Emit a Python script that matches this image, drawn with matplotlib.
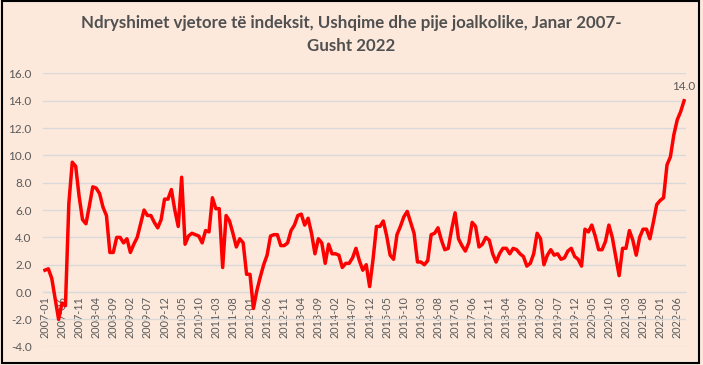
import matplotlib
matplotlib.use('Agg')
import matplotlib.pyplot as plt
import numpy as np
import pandas as pd
from matplotlib.patches import Rectangle

plt.rcParams['font.family'] = ['Lato', 'DejaVu Sans']

TITLE = 'Ndryshimet vjetore të indeksit, Ushqime dhe pije joalkolike, Janar 2007-\nGusht 2022'

# yearly change (%), one list per year
y2007 = [1.6, 1.7, 1.0, -0.5, -2.0, -0.8, -1.0, 6.5, 9.5, 9.2, 7.0, 5.3]
y2008 = [5.0, 6.3, 7.7, 7.6, 7.2, 6.2, 5.6, 2.9, 2.9, 4.0, 4.0, 3.6]
y2009 = [3.9, 2.9, 3.5, 4.0, 5.0, 6.0, 5.6, 5.6, 5.1, 4.7, 5.3, 6.8]
y2010 = [6.8, 7.5, 6.0, 4.8, 8.4, 3.5, 4.1, 4.3, 4.2, 4.1, 3.6, 4.5]
y2011 = [4.4, 6.9, 6.1, 6.1, 1.8, 5.6, 5.2, 4.3, 3.3, 3.9, 3.6, 1.3]
y2012 = [1.3, -1.2, 0.1, 1.1, 2.0, 2.7, 4.1, 4.2, 4.2, 3.4, 3.4, 3.6]
y2013 = [4.5, 4.9, 5.6, 5.7, 4.9, 5.4, 4.3, 2.8, 3.9, 3.6, 2.1, 3.5]
y2014 = [2.8, 2.8, 2.7, 1.8, 2.1, 2.1, 2.5, 3.2, 2.3, 1.6, 2.0, 0.4]
y2015 = [2.4, 4.8, 4.8, 5.2, 4.1, 2.7, 2.4, 4.2, 4.8, 5.5, 5.9, 5.1]
y2016 = [4.3, 2.2, 2.2, 2.0, 2.3, 4.2, 4.3, 4.7, 3.8, 3.1, 3.2, 4.6]
y2017 = [5.8, 3.9, 3.4, 3.0, 3.6, 5.1, 4.8, 3.3, 3.5, 4.0, 3.8, 2.8]
y2018 = [2.2, 2.8, 3.2, 3.2, 2.8, 3.2, 3.1, 2.8, 2.6, 1.9, 2.1, 2.8]
y2019 = [4.3, 3.9, 2.0, 2.7, 3.1, 2.7, 2.8, 2.4, 2.5, 3.0, 3.2, 2.6]
y2020 = [2.4, 1.9, 4.6, 4.4, 4.9, 4.1, 3.1, 3.1, 3.7, 4.9, 4.0, 2.6]
y2021 = [1.2, 3.2, 3.2, 4.5, 3.8, 2.7, 4.0, 4.6, 4.6, 3.9, 5.1, 6.4]
y2022 = [6.7, 6.9, 9.3, 9.9, 11.5, 12.6, 13.2, 14.0]

values = (y2007 + y2008 + y2009 + y2010 + y2011 + y2012 + y2013 + y2014
          + y2015 + y2016 + y2017 + y2018 + y2019 + y2020 + y2021 + y2022)
months = pd.period_range('2007-01', periods=len(values), freq='M').strftime('%Y-%m')

BG = '#FCE9DC'
GRID = '#D9D9D9'
TXT = '#595959'

fig = plt.figure(figsize=(7.03, 3.65), dpi=100, facecolor=BG)
ax = fig.add_axes([0.061, 0.050, 0.915, 0.749])
ax.set_facecolor(BG)

x = np.arange(len(values))
ax.plot(x, values, color='#FF0000', lw=2.5, solid_joinstyle='round', zorder=3)

# x axis sits on the zero line (set before tick labels, it resets them)
ax.spines['bottom'].set_position(('data', 0))
ax.spines['bottom'].set_color(GRID)
for s in ['top', 'right', 'left']:
    ax.spines[s].set_visible(False)

ax.set_ylim(-4, 16)
ax.set_xlim(-0.6, len(values) - 0.4)
ax.set_yticks(np.arange(-4, 17, 2))
ax.set_yticklabels([f'{v:.1f}' for v in np.arange(-4, 17, 2)], fontsize=8.5, color=TXT)
ax.grid(axis='y', color=GRID, lw=1)
ax.set_axisbelow(True)

tick_pos = x[::5]
ax.set_xticks(tick_pos)
ax.set_xticklabels([months[i] for i in tick_pos], rotation=90, fontsize=7.8, color=TXT)
ax.tick_params(axis='x', length=0, pad=3)
ax.tick_params(axis='y', length=0, pad=8)

ax.annotate(f'{values[-1]:.1f}', (x[-1], values[-1]), xytext=(0, 6),
            textcoords='offset points', ha='center', va='bottom', fontsize=8.5, color=TXT)

fig.text(0.5, 0.905, TITLE, ha='center', va='center', fontsize=12.2,
         fontweight='bold', color='#505050', linespacing=1.5)

fig.patches.append(Rectangle((0.003, 0.006), 0.992, 0.99, transform=fig.transFigure,
                             fill=False, edgecolor='black', lw=1.5))

fig.savefig('out.png', dpi=100, facecolor=BG)
